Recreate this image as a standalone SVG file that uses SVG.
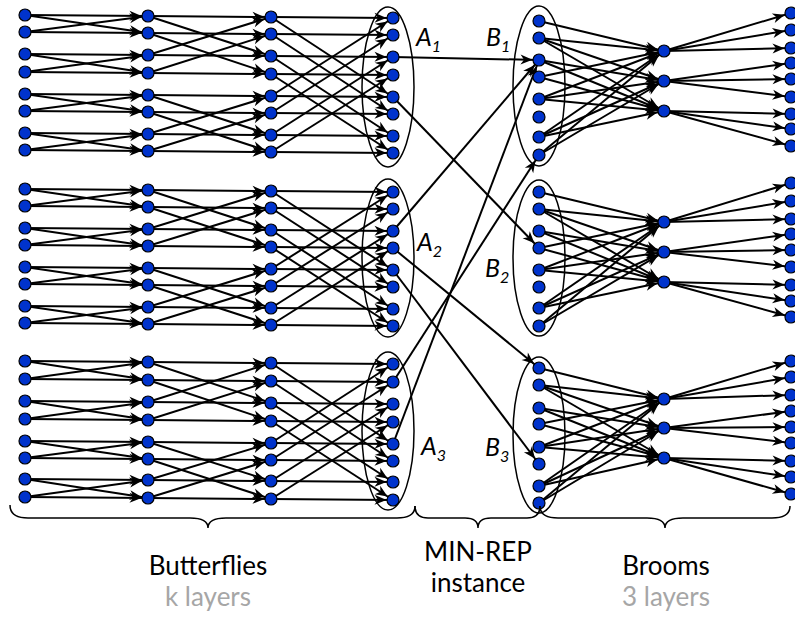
<svg xmlns="http://www.w3.org/2000/svg" width="795" height="618" viewBox="0 0 795 618">
<defs>
<marker id="ah" markerUnits="userSpaceOnUse" markerWidth="14" markerHeight="12" orient="auto" refX="6.5" refY="0" overflow="visible"><path d="M0,0 L-12,-5 L-8.5,0 L-12,5 z" fill="#000"/></marker>
</defs>
<style>
.e line{stroke:#000;stroke-width:2;marker-end:url(#ah)}
.n circle{fill:#0033CC;stroke:#000;stroke-width:1.2}
.ell{fill:none;stroke:#000;stroke-width:1.5}
.br{fill:none;stroke:#000;stroke-width:1.5}
.lab{font-family:Lato,"Open Sans",sans-serif;font-style:italic;font-size:25px;fill:#000}
.sub{font-size:16px}
.cap{font-family:Lato,"Open Sans",sans-serif;font-size:26px;fill:#000;text-anchor:middle}
.gray{fill:#A6A6A6}
</style>
<rect width="795" height="618" fill="#fff"/>
<g id="ellipses">
<ellipse class="ell" cx="388" cy="87" rx="26" ry="80"/>
<ellipse class="ell" cx="388" cy="258" rx="26" ry="79"/>
<ellipse class="ell" cx="388" cy="431" rx="26" ry="79"/>
<ellipse class="ell" cx="539" cy="86" rx="26" ry="80"/>
<ellipse class="ell" cx="539" cy="258" rx="26" ry="78"/>
<ellipse class="ell" cx="539" cy="435" rx="26" ry="78"/>
</g>
<g id="connectors" class="e">
<line x1="25" y1="15" x2="148" y2="16"/><line x1="25" y1="15" x2="148" y2="33"/><line x1="25" y1="32" x2="148" y2="33"/><line x1="25" y1="32" x2="148" y2="16"/>
<line x1="25" y1="54" x2="148" y2="55"/><line x1="25" y1="54" x2="148" y2="73"/><line x1="25" y1="72" x2="148" y2="73"/><line x1="25" y1="72" x2="148" y2="55"/>
<line x1="25" y1="94" x2="148" y2="95"/><line x1="25" y1="94" x2="148" y2="112"/><line x1="25" y1="111" x2="148" y2="112"/><line x1="25" y1="111" x2="148" y2="95"/>
<line x1="25" y1="133" x2="148" y2="134"/><line x1="25" y1="133" x2="148" y2="151"/><line x1="25" y1="150" x2="148" y2="151"/><line x1="25" y1="150" x2="148" y2="134"/>
<line x1="148" y1="16" x2="271" y2="17"/><line x1="148" y1="16" x2="271" y2="56"/><line x1="148" y1="33" x2="271" y2="34"/><line x1="148" y1="33" x2="271" y2="74"/>
<line x1="148" y1="55" x2="271" y2="56"/><line x1="148" y1="55" x2="271" y2="17"/><line x1="148" y1="73" x2="271" y2="74"/><line x1="148" y1="73" x2="271" y2="34"/>
<line x1="148" y1="95" x2="271" y2="96"/><line x1="148" y1="95" x2="271" y2="135"/><line x1="148" y1="112" x2="271" y2="113"/><line x1="148" y1="112" x2="271" y2="152"/>
<line x1="148" y1="134" x2="271" y2="135"/><line x1="148" y1="134" x2="271" y2="96"/><line x1="148" y1="151" x2="271" y2="152"/><line x1="148" y1="151" x2="271" y2="113"/>
<line x1="271" y1="17" x2="393" y2="18"/><line x1="271" y1="17" x2="393" y2="97"/><line x1="271" y1="34" x2="393" y2="35"/><line x1="271" y1="34" x2="393" y2="114"/>
<line x1="271" y1="56" x2="393" y2="57"/><line x1="271" y1="56" x2="393" y2="136"/><line x1="271" y1="74" x2="393" y2="75"/><line x1="271" y1="74" x2="393" y2="153"/>
<line x1="271" y1="96" x2="393" y2="97"/><line x1="271" y1="96" x2="393" y2="18"/><line x1="271" y1="113" x2="393" y2="114"/><line x1="271" y1="113" x2="393" y2="35"/>
<line x1="271" y1="135" x2="393" y2="136"/><line x1="271" y1="135" x2="393" y2="57"/><line x1="271" y1="152" x2="393" y2="153"/><line x1="271" y1="152" x2="393" y2="75"/>

<line x1="25" y1="189" x2="148" y2="190"/><line x1="25" y1="189" x2="148" y2="207"/><line x1="25" y1="206" x2="148" y2="207"/><line x1="25" y1="206" x2="148" y2="190"/>
<line x1="25" y1="228" x2="148" y2="229"/><line x1="25" y1="228" x2="148" y2="246"/><line x1="25" y1="245" x2="148" y2="246"/><line x1="25" y1="245" x2="148" y2="229"/>
<line x1="25" y1="267" x2="148" y2="268"/><line x1="25" y1="267" x2="148" y2="285"/><line x1="25" y1="284" x2="148" y2="285"/><line x1="25" y1="284" x2="148" y2="268"/>
<line x1="25" y1="306" x2="148" y2="307"/><line x1="25" y1="306" x2="148" y2="324"/><line x1="25" y1="323" x2="148" y2="324"/><line x1="25" y1="323" x2="148" y2="307"/>
<line x1="148" y1="190" x2="271" y2="191"/><line x1="148" y1="190" x2="271" y2="230"/><line x1="148" y1="207" x2="271" y2="208"/><line x1="148" y1="207" x2="271" y2="247"/>
<line x1="148" y1="229" x2="271" y2="230"/><line x1="148" y1="229" x2="271" y2="191"/><line x1="148" y1="246" x2="271" y2="247"/><line x1="148" y1="246" x2="271" y2="208"/>
<line x1="148" y1="268" x2="271" y2="269"/><line x1="148" y1="268" x2="271" y2="308"/><line x1="148" y1="285" x2="271" y2="286"/><line x1="148" y1="285" x2="271" y2="325"/>
<line x1="148" y1="307" x2="271" y2="308"/><line x1="148" y1="307" x2="271" y2="269"/><line x1="148" y1="324" x2="271" y2="325"/><line x1="148" y1="324" x2="271" y2="286"/>
<line x1="271" y1="191" x2="393" y2="192"/><line x1="271" y1="191" x2="393" y2="270"/><line x1="271" y1="208" x2="393" y2="209"/><line x1="271" y1="208" x2="393" y2="287"/>
<line x1="271" y1="230" x2="393" y2="231"/><line x1="271" y1="230" x2="393" y2="309"/><line x1="271" y1="247" x2="393" y2="248"/><line x1="271" y1="247" x2="393" y2="326"/>
<line x1="271" y1="269" x2="393" y2="270"/><line x1="271" y1="269" x2="393" y2="192"/><line x1="271" y1="286" x2="393" y2="287"/><line x1="271" y1="286" x2="393" y2="209"/>
<line x1="271" y1="308" x2="393" y2="309"/><line x1="271" y1="308" x2="393" y2="231"/><line x1="271" y1="325" x2="393" y2="326"/><line x1="271" y1="325" x2="393" y2="248"/>

<line x1="25" y1="361" x2="148" y2="362"/><line x1="25" y1="361" x2="148" y2="380"/><line x1="25" y1="379" x2="148" y2="380"/><line x1="25" y1="379" x2="148" y2="362"/>
<line x1="25" y1="401" x2="148" y2="402"/><line x1="25" y1="401" x2="148" y2="420"/><line x1="25" y1="419" x2="148" y2="420"/><line x1="25" y1="419" x2="148" y2="402"/>
<line x1="25" y1="441" x2="148" y2="442"/><line x1="25" y1="441" x2="148" y2="459"/><line x1="25" y1="458" x2="148" y2="459"/><line x1="25" y1="458" x2="148" y2="442"/>
<line x1="25" y1="479" x2="148" y2="480"/><line x1="25" y1="479" x2="148" y2="498"/><line x1="25" y1="497" x2="148" y2="498"/><line x1="25" y1="497" x2="148" y2="480"/>
<line x1="148" y1="362" x2="271" y2="363"/><line x1="148" y1="362" x2="271" y2="403"/><line x1="148" y1="380" x2="271" y2="381"/><line x1="148" y1="380" x2="271" y2="421"/>
<line x1="148" y1="402" x2="271" y2="403"/><line x1="148" y1="402" x2="271" y2="363"/><line x1="148" y1="420" x2="271" y2="421"/><line x1="148" y1="420" x2="271" y2="381"/>
<line x1="148" y1="442" x2="271" y2="443"/><line x1="148" y1="442" x2="271" y2="481"/><line x1="148" y1="459" x2="271" y2="460"/><line x1="148" y1="459" x2="271" y2="499"/>
<line x1="148" y1="480" x2="271" y2="481"/><line x1="148" y1="480" x2="271" y2="443"/><line x1="148" y1="498" x2="271" y2="499"/><line x1="148" y1="498" x2="271" y2="460"/>
<line x1="271" y1="363" x2="393" y2="364"/><line x1="271" y1="363" x2="393" y2="444"/><line x1="271" y1="381" x2="393" y2="382"/><line x1="271" y1="381" x2="393" y2="461"/>
<line x1="271" y1="403" x2="393" y2="404"/><line x1="271" y1="403" x2="393" y2="482"/><line x1="271" y1="421" x2="393" y2="422"/><line x1="271" y1="421" x2="393" y2="500"/>
<line x1="271" y1="443" x2="393" y2="444"/><line x1="271" y1="443" x2="393" y2="364"/><line x1="271" y1="460" x2="393" y2="461"/><line x1="271" y1="460" x2="393" y2="382"/>
<line x1="271" y1="481" x2="393" y2="482"/><line x1="271" y1="481" x2="393" y2="404"/><line x1="271" y1="499" x2="393" y2="500"/><line x1="271" y1="499" x2="393" y2="422"/>

<line x1="393" y1="57" x2="539" y2="60"/>
<line x1="393" y1="97" x2="539" y2="248"/>
<line x1="393" y1="231" x2="539" y2="60"/>
<line x1="393" y1="248" x2="539" y2="368"/>
<line x1="393" y1="270" x2="539" y2="464"/>
<line x1="393" y1="382" x2="539" y2="155"/>
<line x1="393" y1="444" x2="539" y2="60"/>

<line x1="539" y1="21" x2="664" y2="51"/>
<line x1="539" y1="38" x2="664" y2="51"/><line x1="539" y1="38" x2="664" y2="81"/><line x1="539" y1="38" x2="664" y2="111"/>
<line x1="539" y1="60" x2="664" y2="81"/><line x1="539" y1="60" x2="664" y2="111"/>
<line x1="539" y1="77" x2="664" y2="51"/><line x1="539" y1="77" x2="664" y2="111"/>
<line x1="539" y1="99" x2="664" y2="51"/><line x1="539" y1="99" x2="664" y2="81"/><line x1="539" y1="99" x2="664" y2="111"/>
<line x1="539" y1="137" x2="664" y2="51"/><line x1="539" y1="137" x2="664" y2="81"/><line x1="539" y1="137" x2="664" y2="111"/>
<line x1="539" y1="155" x2="664" y2="51"/><line x1="539" y1="155" x2="664" y2="81"/>
<line x1="664" y1="51" x2="791" y2="13"/><line x1="664" y1="51" x2="791" y2="30"/><line x1="664" y1="51" x2="791" y2="48"/>
<line x1="664" y1="81" x2="791" y2="63"/><line x1="664" y1="81" x2="791" y2="79"/><line x1="664" y1="81" x2="791" y2="97"/>
<line x1="664" y1="111" x2="791" y2="114"/><line x1="664" y1="111" x2="791" y2="129"/><line x1="664" y1="111" x2="791" y2="146"/>

<line x1="539" y1="192" x2="664" y2="222"/>
<line x1="539" y1="209" x2="664" y2="222"/><line x1="539" y1="209" x2="664" y2="252"/><line x1="539" y1="209" x2="664" y2="282"/>
<line x1="539" y1="231" x2="664" y2="252"/><line x1="539" y1="231" x2="664" y2="282"/>
<line x1="539" y1="248" x2="664" y2="222"/><line x1="539" y1="248" x2="664" y2="282"/>
<line x1="539" y1="270" x2="664" y2="222"/><line x1="539" y1="270" x2="664" y2="252"/><line x1="539" y1="270" x2="664" y2="282"/>
<line x1="539" y1="308" x2="664" y2="222"/><line x1="539" y1="308" x2="664" y2="252"/><line x1="539" y1="308" x2="664" y2="282"/>
<line x1="539" y1="326" x2="664" y2="222"/><line x1="539" y1="326" x2="664" y2="252"/>
<line x1="664" y1="222" x2="791" y2="183"/><line x1="664" y1="222" x2="791" y2="201"/><line x1="664" y1="222" x2="791" y2="219"/>
<line x1="664" y1="252" x2="791" y2="234"/><line x1="664" y1="252" x2="791" y2="250"/><line x1="664" y1="252" x2="791" y2="267"/>
<line x1="664" y1="282" x2="791" y2="285"/><line x1="664" y1="282" x2="791" y2="301"/><line x1="664" y1="282" x2="791" y2="317"/>

<line x1="539" y1="368" x2="664" y2="399"/>
<line x1="539" y1="385" x2="664" y2="399"/><line x1="539" y1="385" x2="664" y2="428"/><line x1="539" y1="385" x2="664" y2="458"/>
<line x1="539" y1="408" x2="664" y2="428"/><line x1="539" y1="408" x2="664" y2="458"/>
<line x1="539" y1="424" x2="664" y2="399"/><line x1="539" y1="424" x2="664" y2="458"/>
<line x1="539" y1="447" x2="664" y2="399"/><line x1="539" y1="447" x2="664" y2="428"/><line x1="539" y1="447" x2="664" y2="458"/>
<line x1="539" y1="486" x2="664" y2="399"/><line x1="539" y1="486" x2="664" y2="428"/><line x1="539" y1="486" x2="664" y2="458"/>
<line x1="539" y1="503" x2="664" y2="399"/><line x1="539" y1="503" x2="664" y2="428"/>
<line x1="664" y1="399" x2="791" y2="361"/><line x1="664" y1="399" x2="791" y2="377"/><line x1="664" y1="399" x2="791" y2="395"/>
<line x1="664" y1="428" x2="791" y2="411"/><line x1="664" y1="428" x2="791" y2="427"/><line x1="664" y1="428" x2="791" y2="443"/>
<line x1="664" y1="458" x2="791" y2="461"/><line x1="664" y1="458" x2="791" y2="477"/><line x1="664" y1="458" x2="791" y2="494"/>
</g>
<g class="n">
<g id="b1c0r0"><circle cx="25" cy="15" r="6"/></g><g id="b1c0r1"><circle cx="25" cy="32" r="6"/></g><g id="b1c0r2"><circle cx="25" cy="54" r="6"/></g><g id="b1c0r3"><circle cx="25" cy="72" r="6"/></g><g id="b1c0r4"><circle cx="25" cy="94" r="6"/></g><g id="b1c0r5"><circle cx="25" cy="111" r="6"/></g><g id="b1c0r6"><circle cx="25" cy="133" r="6"/></g><g id="b1c0r7"><circle cx="25" cy="150" r="6"/></g>
<g id="b1c1r0"><circle cx="148" cy="16" r="6"/></g><g id="b1c1r1"><circle cx="148" cy="33" r="6"/></g><g id="b1c1r2"><circle cx="148" cy="55" r="6"/></g><g id="b1c1r3"><circle cx="148" cy="73" r="6"/></g><g id="b1c1r4"><circle cx="148" cy="95" r="6"/></g><g id="b1c1r5"><circle cx="148" cy="112" r="6"/></g><g id="b1c1r6"><circle cx="148" cy="134" r="6"/></g><g id="b1c1r7"><circle cx="148" cy="151" r="6"/></g>
<g id="b1c2r0"><circle cx="271" cy="17" r="6"/></g><g id="b1c2r1"><circle cx="271" cy="34" r="6"/></g><g id="b1c2r2"><circle cx="271" cy="56" r="6"/></g><g id="b1c2r3"><circle cx="271" cy="74" r="6"/></g><g id="b1c2r4"><circle cx="271" cy="96" r="6"/></g><g id="b1c2r5"><circle cx="271" cy="113" r="6"/></g><g id="b1c2r6"><circle cx="271" cy="135" r="6"/></g><g id="b1c2r7"><circle cx="271" cy="152" r="6"/></g>
<g id="A1r0"><circle cx="393" cy="18" r="6"/></g><g id="A1r1"><circle cx="393" cy="35" r="6"/></g><g id="A1r2"><circle cx="393" cy="57" r="6"/></g><g id="A1r3"><circle cx="393" cy="75" r="6"/></g><g id="A1r4"><circle cx="393" cy="97" r="6"/></g><g id="A1r5"><circle cx="393" cy="114" r="6"/></g><g id="A1r6"><circle cx="393" cy="136" r="6"/></g><g id="A1r7"><circle cx="393" cy="153" r="6"/></g>

<g id="b2c0r0"><circle cx="25" cy="189" r="6"/></g><g id="b2c0r1"><circle cx="25" cy="206" r="6"/></g><g id="b2c0r2"><circle cx="25" cy="228" r="6"/></g><g id="b2c0r3"><circle cx="25" cy="245" r="6"/></g><g id="b2c0r4"><circle cx="25" cy="267" r="6"/></g><g id="b2c0r5"><circle cx="25" cy="284" r="6"/></g><g id="b2c0r6"><circle cx="25" cy="306" r="6"/></g><g id="b2c0r7"><circle cx="25" cy="323" r="6"/></g>
<g id="b2c1r0"><circle cx="148" cy="190" r="6"/></g><g id="b2c1r1"><circle cx="148" cy="207" r="6"/></g><g id="b2c1r2"><circle cx="148" cy="229" r="6"/></g><g id="b2c1r3"><circle cx="148" cy="246" r="6"/></g><g id="b2c1r4"><circle cx="148" cy="268" r="6"/></g><g id="b2c1r5"><circle cx="148" cy="285" r="6"/></g><g id="b2c1r6"><circle cx="148" cy="307" r="6"/></g><g id="b2c1r7"><circle cx="148" cy="324" r="6"/></g>
<g id="b2c2r0"><circle cx="271" cy="191" r="6"/></g><g id="b2c2r1"><circle cx="271" cy="208" r="6"/></g><g id="b2c2r2"><circle cx="271" cy="230" r="6"/></g><g id="b2c2r3"><circle cx="271" cy="247" r="6"/></g><g id="b2c2r4"><circle cx="271" cy="269" r="6"/></g><g id="b2c2r5"><circle cx="271" cy="286" r="6"/></g><g id="b2c2r6"><circle cx="271" cy="308" r="6"/></g><g id="b2c2r7"><circle cx="271" cy="325" r="6"/></g>
<g id="A2r0"><circle cx="393" cy="192" r="6"/></g><g id="A2r1"><circle cx="393" cy="209" r="6"/></g><g id="A2r2"><circle cx="393" cy="231" r="6"/></g><g id="A2r3"><circle cx="393" cy="248" r="6"/></g><g id="A2r4"><circle cx="393" cy="270" r="6"/></g><g id="A2r5"><circle cx="393" cy="287" r="6"/></g><g id="A2r6"><circle cx="393" cy="309" r="6"/></g><g id="A2r7"><circle cx="393" cy="326" r="6"/></g>

<g id="b3c0r0"><circle cx="25" cy="361" r="6"/></g><g id="b3c0r1"><circle cx="25" cy="379" r="6"/></g><g id="b3c0r2"><circle cx="25" cy="401" r="6"/></g><g id="b3c0r3"><circle cx="25" cy="419" r="6"/></g><g id="b3c0r4"><circle cx="25" cy="441" r="6"/></g><g id="b3c0r5"><circle cx="25" cy="458" r="6"/></g><g id="b3c0r6"><circle cx="25" cy="479" r="6"/></g><g id="b3c0r7"><circle cx="25" cy="497" r="6"/></g>
<g id="b3c1r0"><circle cx="148" cy="362" r="6"/></g><g id="b3c1r1"><circle cx="148" cy="380" r="6"/></g><g id="b3c1r2"><circle cx="148" cy="402" r="6"/></g><g id="b3c1r3"><circle cx="148" cy="420" r="6"/></g><g id="b3c1r4"><circle cx="148" cy="442" r="6"/></g><g id="b3c1r5"><circle cx="148" cy="459" r="6"/></g><g id="b3c1r6"><circle cx="148" cy="480" r="6"/></g><g id="b3c1r7"><circle cx="148" cy="498" r="6"/></g>
<g id="b3c2r0"><circle cx="271" cy="363" r="6"/></g><g id="b3c2r1"><circle cx="271" cy="381" r="6"/></g><g id="b3c2r2"><circle cx="271" cy="403" r="6"/></g><g id="b3c2r3"><circle cx="271" cy="421" r="6"/></g><g id="b3c2r4"><circle cx="271" cy="443" r="6"/></g><g id="b3c2r5"><circle cx="271" cy="460" r="6"/></g><g id="b3c2r6"><circle cx="271" cy="481" r="6"/></g><g id="b3c2r7"><circle cx="271" cy="499" r="6"/></g>
<g id="A3r0"><circle cx="393" cy="364" r="6"/></g><g id="A3r1"><circle cx="393" cy="382" r="6"/></g><g id="A3r2"><circle cx="393" cy="404" r="6"/></g><g id="A3r3"><circle cx="393" cy="422" r="6"/></g><g id="A3r4"><circle cx="393" cy="444" r="6"/></g><g id="A3r5"><circle cx="393" cy="461" r="6"/></g><g id="A3r6"><circle cx="393" cy="482" r="6"/></g><g id="A3r7"><circle cx="393" cy="500" r="6"/></g>

<g id="B1r0"><circle cx="539" cy="21" r="6"/></g><g id="B1r1"><circle cx="539" cy="38" r="6"/></g><g id="B1r2"><circle cx="539" cy="60" r="6"/></g><g id="B1r3"><circle cx="539" cy="77" r="6"/></g><g id="B1r4"><circle cx="539" cy="99" r="6"/></g><g id="B1r5"><circle cx="539" cy="117" r="6"/></g><g id="B1r6"><circle cx="539" cy="137" r="6"/></g><g id="B1r7"><circle cx="539" cy="155" r="6"/></g>
<g id="B2r0"><circle cx="539" cy="192" r="6"/></g><g id="B2r1"><circle cx="539" cy="209" r="6"/></g><g id="B2r2"><circle cx="539" cy="231" r="6"/></g><g id="B2r3"><circle cx="539" cy="248" r="6"/></g><g id="B2r4"><circle cx="539" cy="270" r="6"/></g><g id="B2r5"><circle cx="539" cy="287" r="6"/></g><g id="B2r6"><circle cx="539" cy="308" r="6"/></g><g id="B2r7"><circle cx="539" cy="326" r="6"/></g>
<g id="B3r0"><circle cx="539" cy="368" r="6"/></g><g id="B3r1"><circle cx="539" cy="385" r="6"/></g><g id="B3r2"><circle cx="539" cy="408" r="6"/></g><g id="B3r3"><circle cx="539" cy="424" r="6"/></g><g id="B3r4"><circle cx="539" cy="447" r="6"/></g><g id="B3r5"><circle cx="539" cy="464" r="6"/></g><g id="B3r6"><circle cx="539" cy="486" r="6"/></g><g id="B3r7"><circle cx="539" cy="503" r="6"/></g>

<g id="M1r0"><circle cx="664" cy="51" r="6"/></g><g id="M1r1"><circle cx="664" cy="81" r="6"/></g><g id="M1r2"><circle cx="664" cy="111" r="6"/></g>
<g id="M2r0"><circle cx="664" cy="222" r="6"/></g><g id="M2r1"><circle cx="664" cy="252" r="6"/></g><g id="M2r2"><circle cx="664" cy="282" r="6"/></g>
<g id="M3r0"><circle cx="664" cy="399" r="6"/></g><g id="M3r1"><circle cx="664" cy="428" r="6"/></g><g id="M3r2"><circle cx="664" cy="458" r="6"/></g>

<g id="R1r0"><circle cx="791" cy="13" r="6"/></g><g id="R1r1"><circle cx="791" cy="30" r="6"/></g><g id="R1r2"><circle cx="791" cy="48" r="6"/></g><g id="R1r3"><circle cx="791" cy="63" r="6"/></g><g id="R1r4"><circle cx="791" cy="79" r="6"/></g><g id="R1r5"><circle cx="791" cy="97" r="6"/></g><g id="R1r6"><circle cx="791" cy="114" r="6"/></g><g id="R1r7"><circle cx="791" cy="129" r="6"/></g><g id="R1r8"><circle cx="791" cy="146" r="6"/></g>
<g id="R2r0"><circle cx="791" cy="183" r="6"/></g><g id="R2r1"><circle cx="791" cy="201" r="6"/></g><g id="R2r2"><circle cx="791" cy="219" r="6"/></g><g id="R2r3"><circle cx="791" cy="234" r="6"/></g><g id="R2r4"><circle cx="791" cy="250" r="6"/></g><g id="R2r5"><circle cx="791" cy="267" r="6"/></g><g id="R2r6"><circle cx="791" cy="285" r="6"/></g><g id="R2r7"><circle cx="791" cy="301" r="6"/></g><g id="R2r8"><circle cx="791" cy="317" r="6"/></g>
<g id="R3r0"><circle cx="791" cy="361" r="6"/></g><g id="R3r1"><circle cx="791" cy="377" r="6"/></g><g id="R3r2"><circle cx="791" cy="395" r="6"/></g><g id="R3r3"><circle cx="791" cy="411" r="6"/></g><g id="R3r4"><circle cx="791" cy="427" r="6"/></g><g id="R3r5"><circle cx="791" cy="443" r="6"/></g><g id="R3r6"><circle cx="791" cy="461" r="6"/></g><g id="R3r7"><circle cx="791" cy="477" r="6"/></g><g id="R3r8"><circle cx="791" cy="494" r="6"/></g>
</g>
<g id="labels">
<text class="lab" x="416" y="46">A<tspan class="sub" dy="6">1</tspan></text>
<text class="lab" x="486" y="46">B<tspan class="sub" dy="6">1</tspan></text>
<text class="lab" x="417" y="251">A<tspan class="sub" dy="6">2</tspan></text>
<text class="lab" x="485" y="277">B<tspan class="sub" dy="6">2</tspan></text>
<text class="lab" x="421" y="455">A<tspan class="sub" dy="6">3</tspan></text>
<text class="lab" x="485" y="456">B<tspan class="sub" dy="6">3</tspan></text>
</g>
<g id="braces">
<path class="br" d="M10,505 Q10,518 28,518 L190,518 Q208,518 208,528 Q208,518 226,518 L397,518 Q415,518 415,506"/>
<path class="br" d="M415,506 Q415,518 428,518 L465,518 Q478,518 478,528 Q478,518 491,518 L527,518 Q540,518 540,506"/>
<path class="br" d="M540,506 Q540,518 558,518 L647,518 Q665,518 665,528 Q665,518 683,518 L772,518 Q790,518 790,506"/>
</g>
<g id="captions">
<text class="cap" x="208" y="575">Butterflies</text>
<text class="cap gray" x="208" y="606">k layers</text>
<text class="cap" x="478" y="561">MIN-REP</text>
<text class="cap" x="478" y="592">instance</text>
<text class="cap" x="666" y="575">Brooms</text>
<text class="cap gray" x="666" y="606">3 layers</text>
</g>
</svg>
